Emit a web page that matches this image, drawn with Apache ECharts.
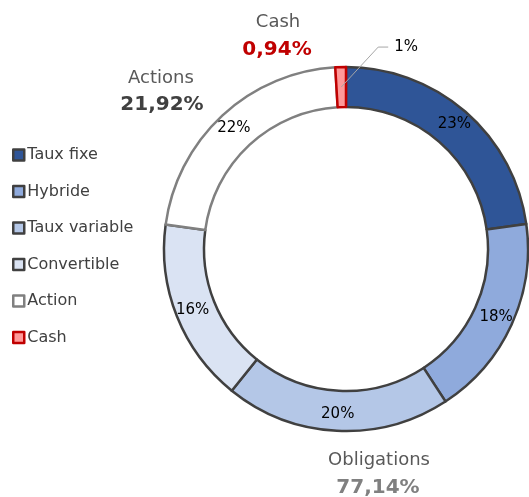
<!DOCTYPE html>
<html>
<head>
<meta charset="utf-8">
<script src="https://cdn.jsdelivr.net/npm/echarts@6/dist/echarts.min.js"></script>
<style>
html,body{margin:0;padding:0;background:#fff;}
#chart{width:529px;height:497px;}
</style>
</head>
<body>
<div id="chart"></div>
<script>
var categories = ['Taux fixe', 'Hybride', 'Taux variable', 'Convertible', 'Action', 'Cash'];
var values = [22.8, 18.0, 20.0, 16.34, 21.92, 0.94];
var fills = ['#2F5597', '#8FAADC', '#B4C7E7', '#DAE3F3', '#FFFFFF', '#FF9999'];
var borders = ['#404040', '#404040', '#404040', '#404040', '#808080', '#C00000'];
var groupNames = ['Cash', 'Actions', 'Obligations'];
var groupValues = ['0,94%', '21,92%', '77,14%'];

var FONT = 'DejaVu Sans';
var chart = echarts.init(document.getElementById('chart'));

var data = categories.map(function (c, i) {
  var d = {
    name: c,
    value: values[i],
    itemStyle: { color: fills[i], borderColor: borders[i], borderWidth: 2.5 }
  };
  if (c === 'Cash') d.label = { show: false };
  return d;
});

var overlayData = categories.map(function (c, i) {
  var d = { name: c, value: values[i] };
  if (c === 'Cash') {
    d.label = { show: true, position: 'outside' };
    d.labelLine = { show: true, lineStyle: { color: '#A6A6A6', width: 1 } };
  }
  return d;
});

chart.setOption({
  animation: false,
  backgroundColor: '#ffffff',
  legend: {
    orient: 'vertical',
    left: 12,
    top: 146,
    padding: 0,
    itemWidth: 11,
    itemHeight: 11,
    itemGap: 18.5,
    icon: 'rect',
    itemStyle: { borderWidth: 2.5 },
    textStyle: { fontFamily: FONT, fontSize: 16, lineHeight: 18, color: '#404040', padding: [0, 0, 0, -2] },
    data: categories
  },
  graphic: [
    { type: 'text', x: 278, y: 22, style: { text: groupNames[0], fill: '#595959', font: '18px "DejaVu Sans"', textAlign: 'center', textVerticalAlign: 'middle' } },
    { type: 'text', x: 277, y: 50, style: { text: groupValues[0], fill: '#C00000', font: 'bold 20px "DejaVu Sans"', textAlign: 'center', textVerticalAlign: 'middle' } },
    { type: 'text', x: 161, y: 78, style: { text: groupNames[1], fill: '#595959', font: '18px "DejaVu Sans"', textAlign: 'center', textVerticalAlign: 'middle' } },
    { type: 'text', x: 162, y: 105, style: { text: groupValues[1], fill: '#404040', font: 'bold 20px "DejaVu Sans"', textAlign: 'center', textVerticalAlign: 'middle' } },
    { type: 'text', x: 379, y: 460, style: { text: groupNames[2], fill: '#595959', font: '18px "DejaVu Sans"', textAlign: 'center', textVerticalAlign: 'middle' } },
    { type: 'text', x: 378, y: 488, style: { text: groupValues[2], fill: '#808080', font: 'bold 20px "DejaVu Sans"', textAlign: 'center', textVerticalAlign: 'middle' } }
  ],
  series: [{
    type: 'pie',
    z: 2,
    center: [346, 249],
    radius: [142, 182],
    startAngle: 90,
    clockwise: true,
    avoidLabelOverlap: false,
    label: {
      show: true,
      position: 'inside',
      fontFamily: FONT,
      fontSize: 15,
      color: '#000000',
      formatter: function (p) { return Math.round(p.value) + '%'; }
    },
    labelLine: { show: false },
    emphasis: { disabled: true },
    data: data
  }, {
    type: 'pie',
    z: 5,
    center: [346, 249],
    radius: [142, 162],
    startAngle: 90,
    clockwise: true,
    silent: true,
    avoidLabelOverlap: false,
    itemStyle: { color: 'rgba(0,0,0,0)', borderWidth: 0 },
    label: {
      show: false,
      fontFamily: FONT,
      fontSize: 15,
      color: '#000000',
      formatter: function (p) { return Math.round(p.value) + '%'; }
    },
    labelLine: { show: false },
    labelLayout: function (p) {
      if (p.dataIndex !== categories.length - 1 || !p.labelLinePoints) return {};
      var a = p.labelLinePoints[0];
      return {
        x: a[0] + 53,
        y: a[1] - 40,
        align: 'left',
        verticalAlign: 'middle',
        labelLinePoints: [[a[0], a[1]], [a[0] + 37, a[1] - 40], [a[0] + 47, a[1] - 40]]
      };
    },
    emphasis: { disabled: true },
    data: overlayData
  }]
});
</script>
</body>
</html>
